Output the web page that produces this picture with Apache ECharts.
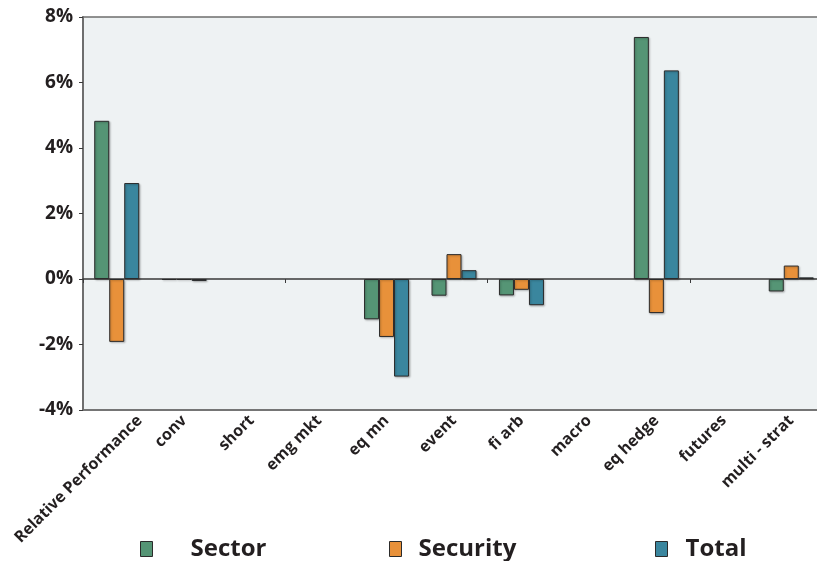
<!DOCTYPE html>
<html>
<head>
<meta charset="utf-8">
<script src="https://cdn.jsdelivr.net/npm/echarts@6/dist/echarts.min.js"></script>
<style>
  html, body { margin: 0; padding: 0; background: #ffffff; }
  #chart { width: 817px; height: 561px; }
</style>
</head>
<body>
<div id="chart"></div>
<script>
// Strategy categories along the x axis
const categories = ['Relative Performance', 'conv', 'short', 'emg mkt', 'eq mn', 'event',
  'fi arb', 'macro', 'eq hedge', 'futures', 'multi - strat'];

// Attribution components (%)
const sector   = [4.83, -0.03, 0, 0, -1.23, -0.51, -0.50, 0, 7.39, 0, -0.38];
const security = [-1.92, -0.03, 0, 0, -1.77, 0.76, -0.33, 0, -1.04, 0, 0.41];
const total    = [2.93, -0.06, 0, 0, -2.98, 0.27, -0.80, 0, 6.37, 0, 0.05];

// Y axis range and step (%)
const yMin = -4, yMax = 8, yStep = 2;

const colors = { Sector: '#559575', Security: '#e8913a', Total: '#3a869e' };
const font = '"Open Sans", "Liberation Sans", sans-serif';
const labelSize = 16;
const labelMargin = 8;

const chart = echarts.init(document.getElementById('chart'), null, { renderer: 'canvas' });

function barSeries(name, data) {
  return {
    name: name,
    type: 'bar',
    xAxisIndex: 0,
    // zero-valued entries get no outline so they leave no visible mark
    data: data.map(v => v === 0
      ? { value: v, itemStyle: { borderWidth: 0, shadowColor: 'transparent' } }
      : v),
    barWidth: 15,
    barGap: '0%',
    itemStyle: {
      color: colors[name],
      borderColor: '#2b2b2b',
      borderWidth: 1,
      shadowColor: 'rgba(0,0,0,0.25)',
      shadowBlur: 2,
      shadowOffsetX: 1,
      shadowOffsetY: 1
    }
  };
}

function legendAt(name, left, textPad) {
  return {
    data: [name],
    left: left,
    top: 537,
    padding: 0,
    icon: 'rect',
    itemWidth: 12,
    itemHeight: 15,
    selectedMode: false,
    textStyle: {
      fontFamily: font,
      fontWeight: 'bold',
      fontSize: 24,
      color: '#231f20',
      padding: [0, 0, 0, textPad]
    },
    itemStyle: { borderColor: '#2b2b2b', borderWidth: 1 }
  };
}

// The first (long) category name is drawn separately, nudged right so it stays on the canvas
const axisCategories = categories.map((c, i) => i === 0
  ? { value: c, textStyle: { color: 'transparent' } }
  : c);

const gridBox = { left: 83, top: 17, width: 742, height: 393 };

chart.setOption({
  animation: false,
  grid: Object.assign({
    containLabel: false,
    outerBoundsMode: 'none',
    show: true,
    backgroundColor: '#eef2f3',
    borderColor: '#6e6e6e',
    borderWidth: 1.5
  }, gridBox),
  legend: [
    legendAt('Sector', 140, 33),
    legendAt('Security', 389, 12),
    legendAt('Total', 655, 13)
  ],
  xAxis: [
    {
      // bottom axis carrying the category names
      type: 'category',
      data: axisCategories,
      position: 'bottom',
      axisLine: { onZero: false, lineStyle: { color: '#6e6e6e', width: 1.5 } },
      axisTick: { show: false },
      axisLabel: {
        interval: 0,
        rotate: 45,
        margin: labelMargin,
        fontFamily: font,
        fontWeight: 'bold',
        fontSize: labelSize,
        color: '#231f20'
      }
    },
    {
      // zero baseline with tick marks between categories
      type: 'category',
      data: categories,
      position: 'top',
      axisLine: { onZero: true, lineStyle: { color: '#3a3a3a', width: 1.5 } },
      axisTick: { show: true, inside: true, length: 4, lineStyle: { color: '#3a3a3a' } },
      axisLabel: { show: false }
    }
  ],
  yAxis: {
    type: 'value',
    min: yMin,
    max: yMax,
    interval: yStep,
    axisLine: { show: true, lineStyle: { color: '#6e6e6e', width: 2 } },
    axisTick: { show: true, length: 4, lineStyle: { color: '#3a3a3a' } },
    splitLine: { show: false },
    axisLabel: {
      formatter: '{value}%',
      margin: 10,
      fontFamily: font,
      fontWeight: 'bold',
      fontSize: 19,
      color: '#231f20'
    }
  },
  series: [
    barSeries('Sector', sector),
    barSeries('Security', security),
    barSeries('Total', total)
  ]
});

// Place the first category name at its axis position, shifted right
const firstX = chart.convertToPixel({ xAxisIndex: 0 }, categories[0]);
const axisY = chart.convertToPixel({ yAxisIndex: 0 }, yMin);
chart.setOption({
  graphic: [{
    type: 'text',
    x: firstX + 23,
    y: axisY + labelMargin,
    rotation: Math.PI / 4,
    silent: true,
    style: {
      text: categories[0],
      font: 'bold ' + labelSize + 'px ' + font,
      fill: '#231f20',
      align: 'right',
      verticalAlign: 'middle'
    }
  }]
});
</script>
</body>
</html>
